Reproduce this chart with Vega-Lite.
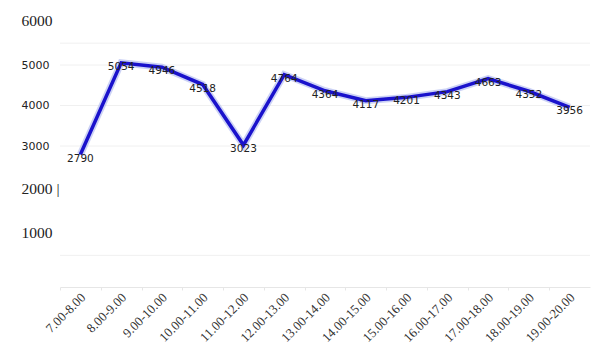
{
  "$schema": "https://vega.github.io/schema/vega-lite/v6.json",
  "autosize": {"type": "none"},
  "width": 530,
  "height": 287,
  "padding": {"left": 60, "top": 0, "right": 16, "bottom": 60},
  "background": "white",
  "config": {"view": {"stroke": null}},
  "data": {"values": [
    {"t": "7.00-8.00", "v": 2790},
    {"t": "8.00-9.00", "v": 5054},
    {"t": "9.00-10.00", "v": 4946},
    {"t": "10.00-11.00", "v": 4518},
    {"t": "11.00-12.00", "v": 3023},
    {"t": "12.00-13.00", "v": 4764},
    {"t": "13.00-14.00", "v": 4364},
    {"t": "14.00-15.00", "v": 4117},
    {"t": "15.00-16.00", "v": 4201},
    {"t": "16.00-17.00", "v": 4343},
    {"t": "17.00-18.00", "v": 4663},
    {"t": "18.00-19.00", "v": 4352},
    {"t": "19.00-20.00", "v": 3956}
  ]},
  "encoding": {
    "x": {"field": "t", "type": "ordinal", "sort": null,
      "scale": {"type": "point", "padding": 0.5},
      "axis": {"title": null, "labelAngle": -45, "labelAlign": "right", "labelBaseline": "middle",
        "labelFont": "Liberation Serif", "labelFontSize": 13, "labelColor": "#333333",
        "labelPadding": 5, "domainColor": "#e6e6e6", "tickColor": "#e6e6e6", "tickSize": 3,
        "tickOffset": -20.4, "labelOffset": 23, "grid": false}},
    "y": {"field": "v", "type": "quantitative",
      "scale": {"domain": [-481, 6605], "nice": false, "zero": false},
      "axis": {"title": null, "values": [1000, 2000, 3000, 4000, 5000, 6000], "domain": false, "ticks": false,
        "tickSize": 0, "labelAlign": "left", "labelPadding": 39, "grid": false, "format": "d",
        "labelExpr": "datum.value == 2000 ? '2000 |' : datum.label",
        "labelOffset": {"condition": [{"test": "datum.value == 6000", "value": -4}, {"test": "datum.value == 1000", "value": 5}, {"test": "datum.value == 2000", "value": 2}], "value": 0},
        "labelFont": {"condition": {"test": "datum.value == 6000 || datum.value <= 2000", "value": "Liberation Serif"}, "value": "DejaVu Sans"},
        "labelFontSize": {"condition": {"test": "datum.value == 6000 || datum.value <= 2000", "value": 15.5}, "value": 11},
        "labelColor": "#222222"}}
  },
  "layer": [
    {"data": {"values": [{"g": 5540}, {"g": 5000}, {"g": 4000}, {"g": 3000}, {"g": 300}]},
     "mark": {"type": "rule", "color": "#f0f0f0", "strokeWidth": 1},
     "encoding": {"x": null, "y": {"field": "g", "type": "quantitative"}}},
    {"mark": {"type": "line", "color": "#aab4ee", "strokeWidth": 7, "opacity": 0.6}},
    {"mark": {"type": "line", "color": "#1a12cc", "strokeWidth": 3.5}},
    {"mark": {"type": "text", "dy": 4, "font": "DejaVu Sans", "fontSize": 10.5, "color": "#222222"},
     "encoding": {"text": {"field": "v", "type": "quantitative", "format": "d"}}}
  ]
}
